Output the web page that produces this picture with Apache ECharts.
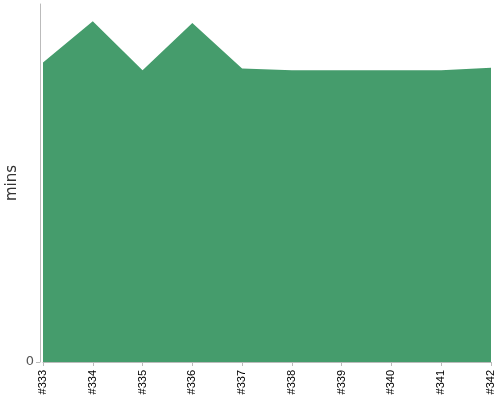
<!DOCTYPE html>
<html>
<head>
<meta charset="utf-8">
<script src="https://cdn.jsdelivr.net/npm/echarts@6/dist/echarts.min.js"></script>
<style>html,body{margin:0;padding:0;background:#fff}#c{width:500px;height:400px}</style>
</head>
<body>
<div id="c"></div>
<script>
var categories = ['#333','#334','#335','#336','#337','#338','#339','#340','#341','#342'];
var minutes = [50.2, 57.1, 48.9, 56.8, 49.2, 48.9, 48.9, 48.9, 48.9, 49.3];
var yTickValues = [0];

var chart = echarts.init(document.getElementById('c'));
chart.setOption({
  animation: false,
  grid: { left: 43, right: 9, top: 4, bottom: 38, containLabel: false, outerBoundsMode: 'none' },
  xAxis: {
    type: 'category',
    data: categories,
    boundaryGap: false,
    offset: 2,
    axisLine: { lineStyle: { color: '#bbb' } },
    axisTick: { alignWithLabel: true, length: 4, lineStyle: { color: '#bbb' } },
    axisLabel: { rotate: 90, fontSize: 11, color: '#000', fontFamily: 'Liberation Sans', margin: 6, interval: 0 }
  },
  yAxis: {
    type: 'value',
    min: 0,
    max: 60,
    offset: 3,
    name: 'mins',
    nameLocation: 'middle',
    nameGap: 20,
    nameMoveOverlap: false,
    nameTextStyle: { fontSize: 15, color: '#333', fontFamily: 'DejaVu Sans' },
    splitLine: { show: false },
    axisLine: { show: true, lineStyle: { color: '#bbb' } },
    axisTick: { show: true, customValues: yTickValues, length: 4, lineStyle: { color: '#bbb' } },
    axisLabel: { customValues: yTickValues, fontSize: 13, color: '#555', fontFamily: 'DejaVu Sans', margin: 6 }
  },
  series: [{
    type: 'line',
    data: minutes,
    showSymbol: false,
    lineStyle: { width: 0 },
    itemStyle: { color: '#459c6c' },
    areaStyle: { color: '#459c6c', opacity: 1 }
  }]
});
</script>
</body>
</html>
